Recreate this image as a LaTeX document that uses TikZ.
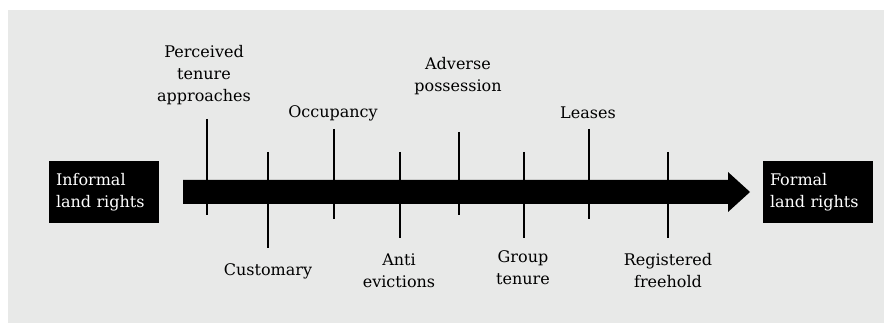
\documentclass[tikz,border=0pt]{standalone}
\usepackage{fontspec}
\setmainfont{DejaVu Serif}
\definecolor{bggray}{HTML}{E8E9E8}
\begin{document}
\begin{tikzpicture}[x=1pt,y=-1pt,
  font=\fontsize{16}{22}\selectfont,
  endbox/.style={fill=black,text=white,minimum height=62pt,text width=96pt,inner xsep=7pt,inner ysep=0pt,align=left},
  lbl/.style={align=center,inner sep=0pt},
  tick/.style={line width=2.5pt}]
\useasboundingbox (0,0) rectangle (884,323);
\fill[bggray] (8,10) rectangle (884,323);
% end boxes
\node[endbox] (inf) at (104,192) {Informal\\land rights};
\node[endbox] (form) at (818,192) {Formal\\land rights};
% main arrow
\coordinate (as) at (183,191.5);
\coordinate (at) at (750,191.5);
\fill (183,180) -- (728,180) -- (728,172) -- (750,192) -- (728,212) -- (728,204) -- (183,204) -- cycle;
% ticks
\foreach \n/\x/\ya/\yb in {p/207/119/215, c/268/152/248, o/334/129/219, a/400/152/238, d/459/132/215, g/524/152/238, l/589/129/219, r/668/152/238}{
  \coordinate (\n t) at (\x,\ya);
  \coordinate (\n b) at (\x,\yb);
  \draw[tick] (\n t) -- (\n b);
}
% labels
\node[lbl] (lp) at (204,75) {Perceived\\tenure\\approaches};
\node[lbl] (lo) at (333,113) {Occupancy};
\node[lbl] (ld) at (458,76) {Adverse\\possession};
\node[lbl] (ll) at (588,113) {Leases};
\node[lbl] (lc) at (268,271) {Customary};
\node[lbl] (la) at (399,271) {Anti\\evictions};
\node[lbl] (lg) at (523,268) {Group\\tenure};
\node[lbl] (lr) at (668,271) {Registered\\freehold};
\end{tikzpicture}
\end{document}
